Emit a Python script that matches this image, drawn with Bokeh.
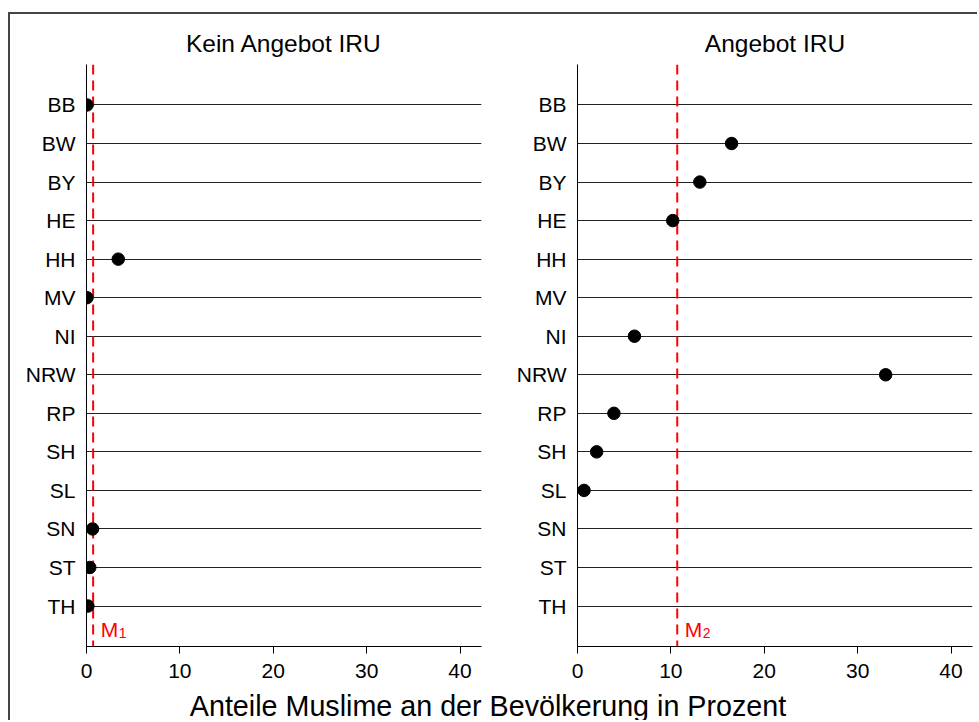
from bokeh.plotting import figure
from bokeh.models import FactorRange, Range1d, Span, FixedTicker
from bokeh.layouts import row, column
from bokeh.core.properties import value
from bokeh.embed import file_html
from bokeh.resources import INLINE

# ---------------- data ----------------
states = ["BB", "BW", "BY", "HE", "HH", "MV", "NI", "NRW", "RP", "SH", "SL", "SN", "ST", "TH"]
nan = float("nan")
kein_angebot = [0.05, nan, nan, nan, 3.4, 0.05, nan, nan, nan, nan, nan, 0.65, 0.35, 0.15]
angebot = [nan, 16.5, 13.1, 10.2, nan, nan, 6.1, 33.0, 3.9, 2.05, 0.7, nan, nan, nan]
mean_kein = 0.71
mean_angebot = 10.68
panel_titles = ["Kein Angebot IRU", "Angebot IRU"]
mean_subscripts = ["1", "2"]
x_ticks = [0, 10, 20, 30, 40]
x_max = 42.3
x_label = "Anteile Muslime an der Bevölkerung in Prozent"

FONT = "Liberation Sans"


def make_panel(title, vals, mean, sub, left, right):
    p = figure(
        y_range=FactorRange(factors=list(reversed(states)), range_padding=0.55,
                            range_padding_units="absolute"),
        x_range=Range1d(0, x_max),
        frame_width=395, frame_height=582,
        min_border_left=left, min_border_right=right,
        min_border_top=50, min_border_bottom=60,
        output_backend="svg", toolbar_location=None, title=title,
    )
    p.title.text_font = FONT
    p.title.text_font_size = "24.5px"
    p.title.text_font_style = "normal"
    p.title.align = "center"
    p.title.text_color = "black"
    p.title.standoff = 15
    p.outline_line_color = None
    p.background_fill_color = "white"
    p.border_fill_color = None

    p.xaxis.ticker = FixedTicker(ticks=x_ticks, minor_ticks=[])
    p.xaxis.major_tick_out = 7
    p.xaxis.major_tick_in = 0
    p.xaxis.minor_tick_out = 0
    p.xaxis.minor_tick_in = 0
    p.xaxis.major_label_standoff = 10
    p.axis.axis_line_color = "black"
    p.axis.axis_line_width = 1
    p.axis.major_tick_line_color = "black"
    p.axis.major_label_text_font = FONT
    p.axis.major_label_text_font_size = "21px"
    p.axis.major_label_text_color = "black"
    p.yaxis.major_tick_out = 0
    p.yaxis.major_tick_in = 0
    p.yaxis.major_label_standoff = 11

    p.xgrid.visible = False
    p.ygrid.grid_line_color = "#222222"
    p.ygrid.grid_line_width = 1

    span = Span(location=mean, dimension="height", line_color="red",
                line_dash="10 6", line_width=2, level="underlay")
    p.add_layout(span)

    xs = [v for v in vals if v == v]
    ys = [s for s, v in zip(states, vals) if v == v]
    p.scatter(x=xs, y=ys, size=12.5, fill_color="black", line_color="black")

    p.text(x=[mean], y=["TH"], text=["M"], x_offset=7.5, y_offset=23,
           text_font=value(FONT), text_font_size="21px", text_color="red",
           text_align="left", text_baseline="alphabetic")
    p.text(x=[mean], y=["TH"], text=[sub], x_offset=25.5, y_offset=27,
           text_font=value(FONT), text_font_size="14px", text_color="red",
           text_align="left", text_baseline="alphabetic")
    return p


p1 = make_panel(panel_titles[0], kein_angebot, mean_kein, mean_subscripts[0], 76, 10)
p2 = make_panel(panel_titles[1], angebot, mean_angebot, mean_subscripts[1], 86, 5)

total_w = 76 + 395 + 10 + 86 + 395 + 5
lab_h = 38
lab = figure(width=total_w, height=lab_h, x_range=Range1d(0, total_w), y_range=Range1d(0, lab_h),
             x_axis_location=None, y_axis_location=None, min_border=0, title=None,
             toolbar_location=None, output_backend="svg",
             styles={"margin-top": "-24px"})
lab.outline_line_color = None
lab.background_fill_color = None
lab.border_fill_color = None
lab.grid.visible = False
lab.text(x=[477.5], y=[15], text=[x_label], text_align="center", text_baseline="alphabetic",
         text_font=value(FONT), text_font_size="28.7px", text_color="black")

layout = column(row(p1, p2), lab,
                styles={"border-left": "2px solid #444", "border-top": "2px solid #444",
                        "margin-top": "12px", "margin-left": "8px",
                        "background-color": "white"})

open("out.html", "w").write(file_html(layout, INLINE))
